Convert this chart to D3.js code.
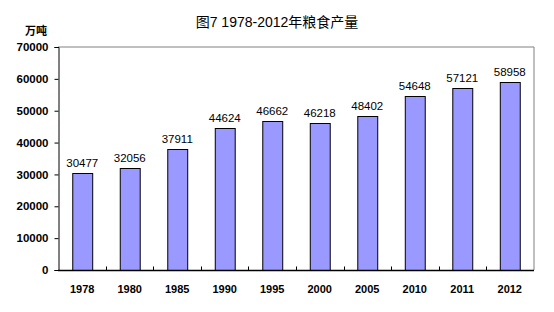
<!DOCTYPE html>
<html>
<head>
<meta charset="utf-8">
<script src="https://cdn.jsdelivr.net/npm/d3@7"></script>
<style>
  body { margin: 0; background: #fff; }
  text { font-family: "Liberation Sans", "Noto Sans CJK SC", sans-serif; }
</style>
</head>
<body>
<div id="chart"></div>
<script>
const years = ['1978', '1980', '1985', '1990', '1995', '2000', '2005', '2010', '2011', '2012']
const output = [30477, 32056, 37911, 44624, 46662, 46218, 48402, 54648, 57121, 58958]
const yTicks = [0, 10000, 20000, 30000, 40000, 50000, 60000, 70000]

const width = 554
const height = 312
const margin = {top: 47, right: 20, bottom: 42, left: 58}

const svg = d3.select('#chart')
    .append('svg')
    .attr('width', width)
    .attr('height', height)

const x = d3.scaleBand()
    .domain(years)
    .range([margin.left, width - margin.right])
    .paddingInner(0.58)
    .paddingOuter(0.3)

const y = d3.scaleLinear()
    .domain([0, 70000])
    .range([height - margin.bottom, margin.top])

// plot frame (top and right in grey)
svg.append('path')
    .attr('d', `M${margin.left},${margin.top}H${width - margin.right}V${height - margin.bottom}`)
    .attr('fill', 'none')
    .attr('stroke', '#808080')
    .attr('stroke-width', 1)

// bars
svg.selectAll('rect.bar')
    .data(output)
    .enter()
    .append('rect')
    .attr('class', 'bar')
    .attr('x', (d, i) => x(years[i]) + 0.5)
    .attr('y', d => Math.round(y(d)) + 0.5)
    .attr('width', x.bandwidth())
    .attr('height', d => y(0) - Math.round(y(d)))
    .attr('fill', '#9999ff')
    .attr('stroke', '#000')
    .attr('stroke-width', 1)

// value labels
svg.selectAll('text.value')
    .data(output)
    .enter()
    .append('text')
    .attr('class', 'value')
    .attr('x', (d, i) => x(years[i]) + x.bandwidth() / 2)
    .attr('y', d => y(d) - 6)
    .attr('text-anchor', 'middle')
    .attr('font-size', 11.5)
    .attr('fill', '#000')
    .text(d => d)

// y axis
const yAxis = d3.axisLeft(y)
    .tickValues(yTicks)
    .tickSize(4)
    .tickPadding(6)
    .tickFormat(d3.format('d'))

svg.append('g')
    .attr('transform', `translate(${margin.left + 0.5},0)`)
    .call(yAxis)
    .call(g => g.select('.domain').attr('stroke', '#000'))
    .call(g => g.selectAll('text').attr('font-size', 11.5).attr('font-weight', 'bold').attr('fill', '#000'))

// x axis baseline and category boundary ticks
const bounds = d3.range(1, years.length).map(i => margin.left + (width - margin.left - margin.right) * i / years.length)
const base = Math.round(y(0)) + 0.5

svg.append('line')
    .attr('x1', margin.left)
    .attr('x2', width - margin.right)
    .attr('y1', base)
    .attr('y2', base)
    .attr('stroke', '#000')
    .attr('stroke-width', 1.5)

svg.selectAll('line.xtick')
    .data(bounds)
    .enter()
    .append('line')
    .attr('class', 'xtick')
    .attr('x1', d => Math.round(d) + 0.5)
    .attr('x2', d => Math.round(d) + 0.5)
    .attr('y1', base)
    .attr('y2', base - 4)
    .attr('stroke', '#000')

svg.selectAll('text.year')
    .data(years)
    .enter()
    .append('text')
    .attr('class', 'year')
    .attr('x', d => x(d) + x.bandwidth() / 2)
    .attr('y', base + 22)
    .attr('text-anchor', 'middle')
    .attr('font-size', 11)
    .attr('font-weight', 'bold')
    .text(d => d)

// unit label
svg.append('text')
    .attr('x', 47)
    .attr('y', 35)
    .attr('text-anchor', 'end')
    .attr('font-size', 11)
    .attr('font-weight', 'bold')
    .text('万吨')

// title
svg.append('text')
    .attr('x', 277)
    .attr('y', 27)
    .attr('text-anchor', 'middle')
    .attr('font-size', 14)
    .text('图7 1978-2012年粮食产量')
</script>
</body>
</html>
